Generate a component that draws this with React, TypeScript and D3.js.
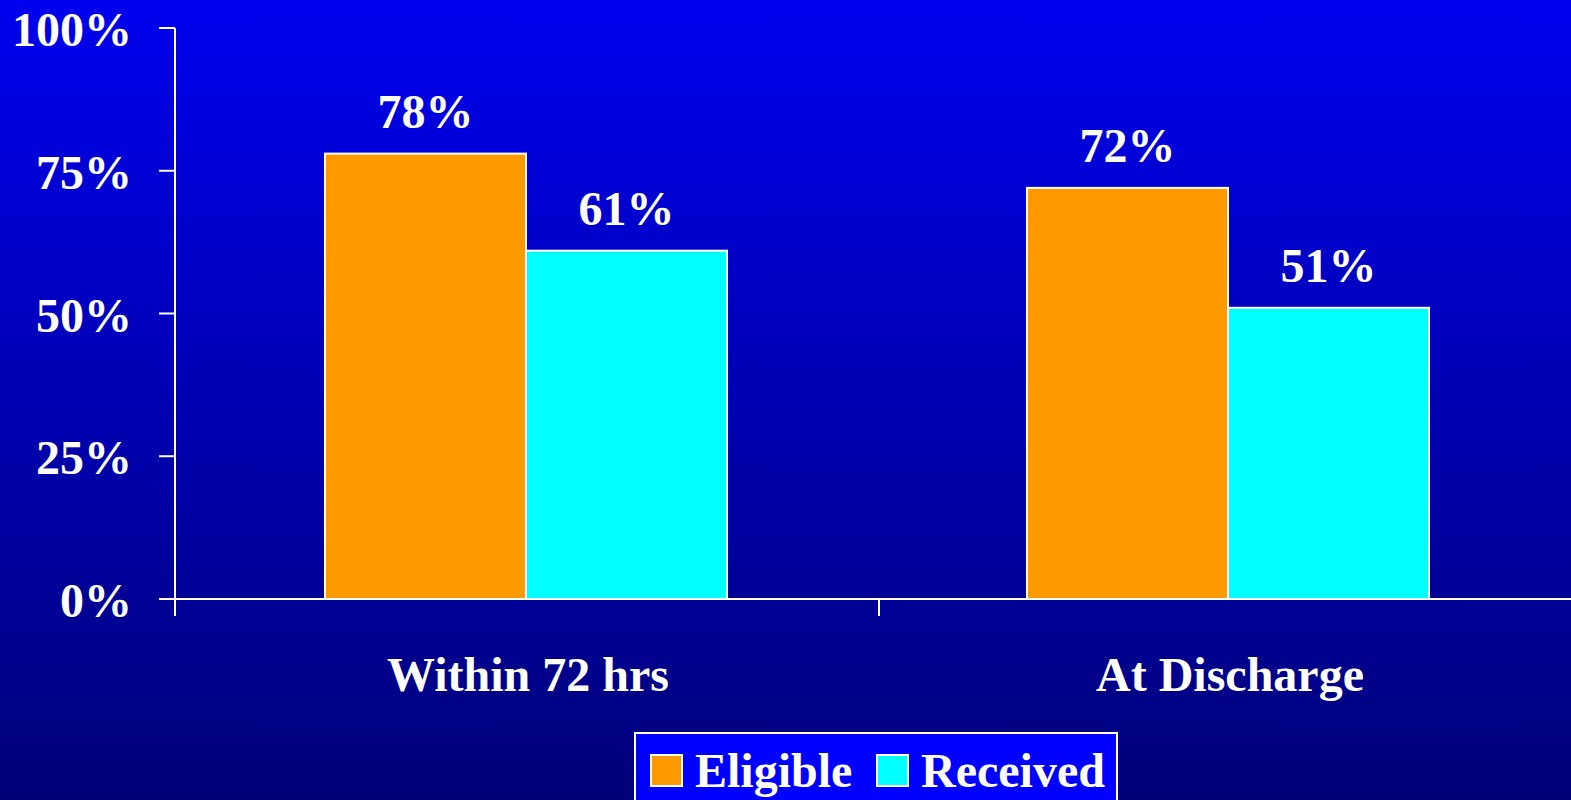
import React from "react";
import * as d3 from "d3";

const categories = ["Within 72 hrs", "At Discharge"];
const seriesNames = ["Eligible", "Received"];
const eligible = [78, 72];
const received = [61, 51];
const yTicks = [0, 25, 50, 75, 100];
const seriesColors = ["#FF9900", "#00FFFF"];

const W = 1571;
const H = 800;
const FONT = "'Liberation Serif', 'Times New Roman', serif";
const FS = 48;

export default function App() {
  const x0 = 175;
  const bandW = 702;
  const x = d3
    .scaleBand<string>()
    .domain(categories)
    .range([x0, x0 + bandW * categories.length])
    .paddingInner(0)
    .paddingOuter(0);
  const inner = d3
    .scaleBand<string>()
    .domain(seriesNames)
    .range([0, x.bandwidth()])
    .paddingOuter(0.746)
    .paddingInner(0);
  const y = d3.scaleLinear().domain([0, 100]).range([599, 28]);

  const values = [eligible, received];

  return (
    <svg
      width={W}
      height={H}
      style={{ position: "fixed", left: 0, top: 0, display: "block" }}
    >
      <defs>
        <linearGradient id="bg" x1="0" y1="0" x2="0" y2="1">
          <stop offset="0%" stopColor="#0000EE" />
          <stop offset="100%" stopColor="#000078" />
        </linearGradient>
      </defs>
      <rect x={0} y={0} width={W} height={H} fill="url(#bg)" />

      {/* bars with value labels */}
      {categories.map((c, ci) =>
        seriesNames.map((s, si) => {
          const v = values[si][ci];
          const bx = (x(c) as number) + (inner(s) as number);
          const bw = inner.bandwidth();
          return (
            <g key={c + s}>
              <rect
                x={bx}
                y={y(v)}
                width={bw}
                height={y(0) - y(v)}
                fill={seriesColors[si]}
                stroke="#FFFFFF"
                strokeWidth={2}
              />
              <text
                x={bx + bw / 2}
                y={y(v) - 26}
                textAnchor="middle"
                fill="#FFFFFF"
                fontFamily={FONT}
                fontWeight="bold"
                fontSize={FS}
              >
                {v}%
              </text>
            </g>
          );
        })
      )}

      {/* y axis */}
      <line x1={x0} x2={x0} y1={y(100)} y2={y(0) + 17} stroke="#FFFFFF" strokeWidth={2} />
      {yTicks.map((t) => (
        <g key={t}>
          <line x1={x0 - 16} x2={x0} y1={y(t)} y2={y(t)} stroke="#FFFFFF" strokeWidth={2} />
          <text
            x={132}
            y={y(t) + 18}
            textAnchor="end"
            fill="#FFFFFF"
            fontFamily={FONT}
            fontWeight="bold"
            fontSize={FS}
          >
            {t}%
          </text>
        </g>
      ))}

      {/* x axis */}
      <line x1={x0 - 16} x2={W} y1={y(0)} y2={y(0)} stroke="#FFFFFF" strokeWidth={2} />
      {categories.slice(1).map((c) => (
        <line
          key={c}
          x1={(x(c) as number) + 2}
          x2={(x(c) as number) + 2}
          y1={y(0)}
          y2={y(0) + 17}
          stroke="#FFFFFF"
          strokeWidth={2}
        />
      ))}
      {categories.map((c) => (
        <text
          key={c}
          x={(x(c) as number) + x.bandwidth() / 2 + 2}
          y={691}
          textAnchor="middle"
          fill="#FFFFFF"
          fontFamily={FONT}
          fontWeight="bold"
          fontSize={FS}
        >
          {c}
        </text>
      ))}

      {/* legend */}
      <g>
        <rect x={635} y={733} width={482} height={90} fill="#0000FF" stroke="#FFFFFF" strokeWidth={2} />
        {seriesNames.map((s, i) => {
          const lx = i === 0 ? 651 : 877;
          return (
            <g key={s}>
              <rect x={lx} y={755} width={31} height={31} fill={seriesColors[i]} stroke="#FFFFFF" strokeWidth={2} />
              <text
                x={lx + 44}
                y={787}
                fill="#FFFFFF"
                fontFamily={FONT}
                fontWeight="bold"
                fontSize={FS}
              >
                {s}
              </text>
            </g>
          );
        })}
      </g>
    </svg>
  );
}
